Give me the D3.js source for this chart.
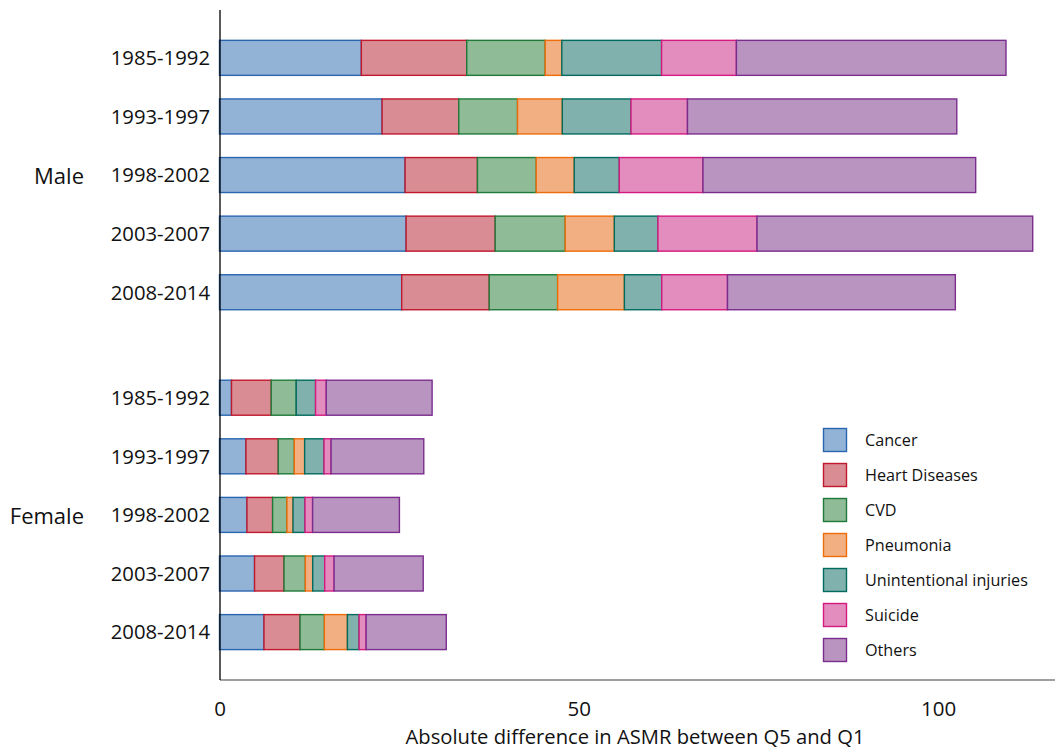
<!DOCTYPE html>
<html>
<head>
<meta charset="utf-8">
<script src="https://cdn.jsdelivr.net/npm/d3@7"></script>
<style>
  html, body { margin: 0; padding: 0; background: #fff; }
  svg { display: block; font-family: "Open Sans", sans-serif; }
</style>
</head>
<body>
<svg id="chart" width="1055" height="751"></svg>
<script>
// ---- data ----
const periods = ["1985-1992", "1993-1997", "1998-2002", "2003-2007", "2008-2014"];
const groups = ["Male", "Female"];
const causes = ["Cancer", "Heart Diseases", "CVD", "Pneumonia", "Unintentional injuries", "Suicide", "Others"];
// each array: Male (5 periods) then Female (5 periods)
const cancer     = [19.74, 22.63, 25.83, 25.97, 25.36,  1.67, 3.68, 3.82, 4.88, 6.19];
const heart      = [14.67, 10.67, 10.07, 12.40, 12.18,  5.53, 4.50, 3.57, 4.10, 5.02];
const cvd        = [10.92,  8.18,  8.18,  9.75,  9.52,  3.48, 2.23, 2.00, 2.97, 3.39];
const pneumonia  = [ 2.31,  6.23,  5.29,  6.83,  9.29,  0.00, 1.44, 0.84, 1.02, 3.20];
const injuries   = [13.89,  9.56,  6.27,  6.07,  5.20,  2.69, 2.70, 1.67, 1.67, 1.63];
const suicide    = [10.41,  7.86, 11.65, 13.79,  9.15,  1.49, 0.98, 1.06, 1.31, 0.98];
const others     = [37.52, 37.48, 37.95, 38.37, 31.71, 14.73, 12.90, 12.08, 12.40, 11.15];
const xTicks = [0, 50, 100];
const xTitle = "Absolute difference in ASMR between Q5 and Q1";

// ---- styles ----
const fills   = ["#92b2d6", "#d98c94", "#8fbb96", "#f2b082", "#80b1ad", "#e28dbd", "#b994c1"];
const strokes = ["#2a66b0", "#c0182c", "#1f7a3a", "#ef6c0a", "#036b5e", "#d41a80", "#7b2d8e"];

const seriesVals = [cancer, heart, cvd, pneumonia, injuries, suicide, others];

// rows
const rows = [];
groups.forEach((g, gi) => {
  periods.forEach((p, pi) => {
    const idx = gi * periods.length + pi;
    const row = { group: g, period: p, slot: pi + gi * (periods.length + 0.8) };
    causes.forEach((c, ci) => { row[c] = seriesVals[ci][idx]; });
    rows.push(row);
  });
});

const stack = d3.stack().keys(causes)(rows);

const svg = d3.select("#chart");
const x = d3.scaleLinear().domain([0, 116.28]).range([219.5, 1055]);
const y = d3.scaleLinear().domain([0, 9.8]).range([57.85, 632.1]);
const barH = 35;
const color = d3.scaleOrdinal().domain(causes).range(fills);
const strokeC = d3.scaleOrdinal().domain(causes).range(strokes);

// bars
svg.append("g").selectAll("g")
  .data(stack).join("g")
  .attr("fill", d => color(d.key))
  .attr("stroke", d => strokeC(d.key))
  .attr("stroke-width", 1.4)
  .selectAll("rect")
  .data(d => d.filter(s => s[1] - s[0] > 0))
  .join("rect")
  .attr("x", s => x(s[0]))
  .attr("width", s => x(s[1]) - x(s[0]))
  .attr("y", s => y(s.data.slot) - barH / 2)
  .attr("height", barH);

// x axis
const xAxis = svg.append("g")
  .attr("transform", "translate(0,679.5)")
  .call(d3.axisBottom(x).tickValues(xTicks).tickSize(0).tickSizeOuter(0).tickPadding(22));
xAxis.select(".domain").attr("stroke", "#404040").attr("stroke-width", 1.2);
xAxis.selectAll("text").attr("font-size", 20.5).attr("fill", "#111").attr("font-family", "Open Sans, sans-serif");

// left axis line
const yAxisScale = d3.scaleLinear().domain([0, 1]).range([9.5, 679.5]);
svg.append("g")
  .attr("transform", "translate(219.5,0)")
  .call(d3.axisLeft(yAxisScale).tickValues([]).tickSizeOuter(0))
  .select(".domain").attr("stroke", "#000").attr("stroke-width", 1.3);

// period labels
svg.append("g").selectAll("text")
  .data(rows).join("text")
  .attr("x", 210)
  .attr("y", d => y(d.slot))
  .attr("dy", "0.36em")
  .attr("text-anchor", "end")
  .attr("font-size", 20.3)
  .attr("fill", "#111")
  .text(d => d.period);

// group labels
svg.append("g").selectAll("text")
  .data(groups).join("text")
  .attr("x", 84)
  .attr("y", (g, gi) => y(2 + gi * (periods.length + 0.8)) + 1.5)
  .attr("dy", "0.36em")
  .attr("text-anchor", "end")
  .attr("font-size", 22)
  .attr("fill", "#111")
  .text(g => g);

// x title
svg.append("text")
  .attr("x", 635)
  .attr("y", 744)
  .attr("text-anchor", "middle")
  .attr("font-size", 20.2)
  .attr("fill", "#111")
  .text(xTitle);

// legend
const leg = svg.append("g").selectAll("g")
  .data(causes).join("g")
  .attr("transform", (c, i) => `translate(823.5,${440 + 35 * i})`);
leg.append("rect")
  .attr("x", 0).attr("y", -11.5).attr("width", 23).attr("height", 23)
  .attr("fill", c => color(c)).attr("stroke", c => strokeC(c)).attr("stroke-width", 1.4);
leg.append("text")
  .attr("x", 41.5).attr("y", 0).attr("dy", "0.36em")
  .attr("font-size", 16.2)
  .attr("fill", "#111")
  .text(c => c);
</script>
</body>
</html>
